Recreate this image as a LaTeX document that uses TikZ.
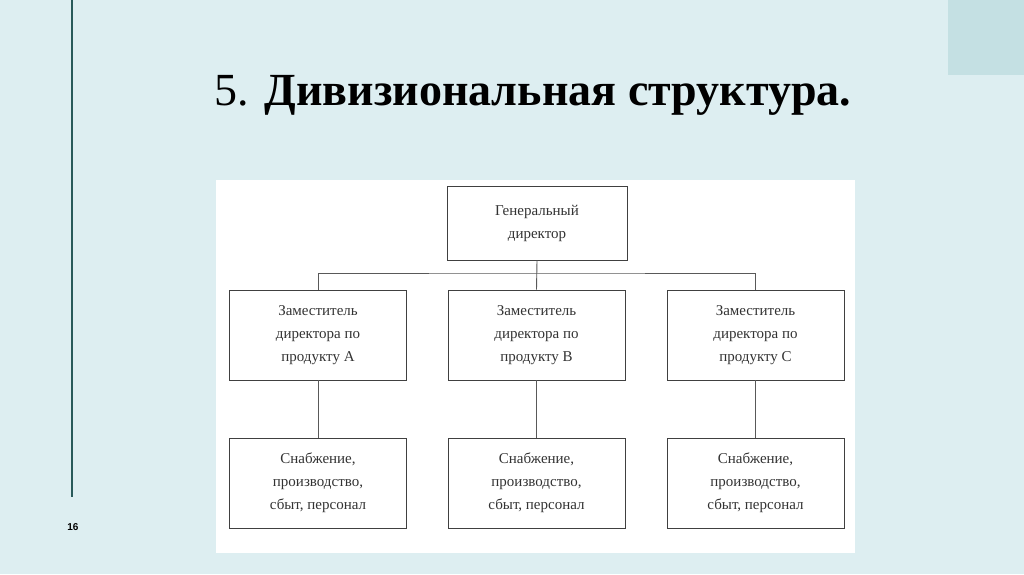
\documentclass[tikz,border=0pt]{standalone}
\usepackage{fontspec}
\setmainfont{Liberation Serif}
\newfontfamily\sansf{Liberation Sans}
\begin{document}
\begin{tikzpicture}[x=1pt,y=-1pt,
 box/.style={draw=black!75,line width=0.9pt,align=center,font=\fontsize{15}{23}\selectfont,text=black!80,inner sep=0},
 ln/.style={draw=black!65,line width=0.9pt}]
\fill[fill={rgb,255:red,221;green,238;blue,241}] (0,0) rectangle (1024,574);
\useasboundingbox (0,0) rectangle (1024,574);
\fill[fill={rgb,255:red,196;green,224;blue,227}] (948,0) rectangle (1024,75);
\draw[line width=1.5pt,draw={rgb,255:red,40;green,90;blue,90}] (72,0) -- (72,497);
\node[font=\sansf\bfseries\fontsize{10}{12}\selectfont] (pg) at (73,527) {16};
\node[font=\fontsize{46}{52}\selectfont] (title) at (533,95) {5. \textbf{Дивизиональная структура.}};
\fill[white] (216,180) rectangle (855,553);
\node[box,minimum width=180,minimum height=74] (gd) at (537,223) {Генеральный\\директор};
\foreach \n/\x/\l in {a/318/A,b/536.5/B,c/755.5/C}{
 \node[box,minimum width=177,minimum height=90] (m\n) at (\x,335) {Заместитель\\директора по\\продукту \l};
 \node[box,minimum width=177,minimum height=90] (s\n) at (\x,483) {Снабжение,\\производство,\\сбыт, персонал};
 \draw[ln] (m\n.south) -- (s\n.north);
}
\coordinate (bus) at (537,273);
\draw[ln] (gd.south) -- (mb.north);
\draw[ln] (ma.north) |- (bus) -| (mc.north);
\end{tikzpicture}
\end{document}
